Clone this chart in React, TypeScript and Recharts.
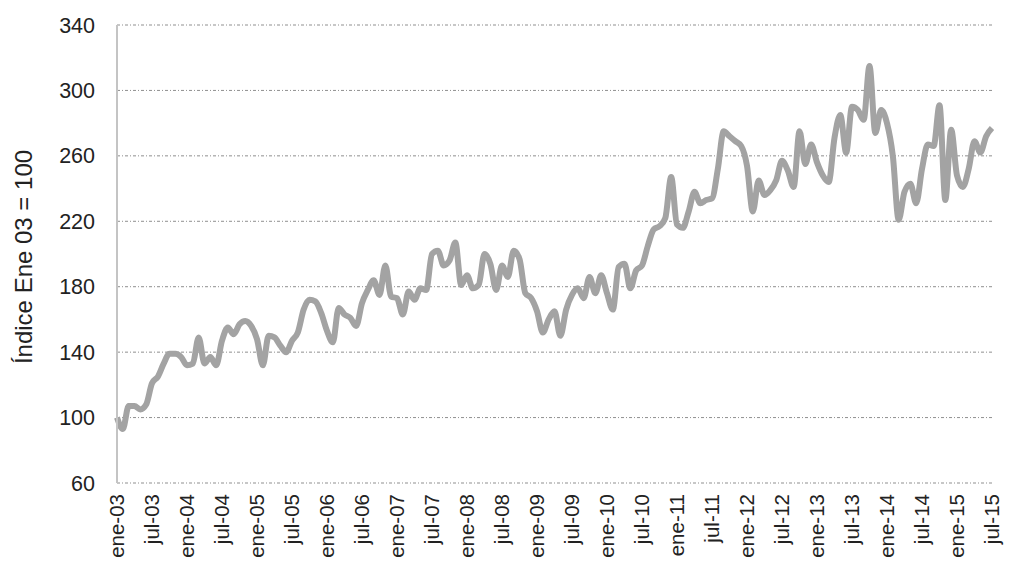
import React from 'react';
import { LineChart, Line, XAxis, YAxis, CartesianGrid } from 'recharts';

const meses = ['ene', 'feb', 'mar', 'abr', 'may', 'jun', 'jul', 'ago', 'sep', 'oct', 'nov', 'dic'];
const anios = ['03', '04', '05', '06', '07', '08', '09', '10', '11', '12', '13', '14', '15'];

// Índice mensual, base enero 2003 = 100
const indice2003 = [100, 93, 107, 107, 105, 108, 121, 125, 133, 139, 139, 137];
const indice2004 = [132, 133, 149, 133, 137, 132, 147, 155, 151, 157, 159, 156];
const indice2005 = [148, 132, 150, 149, 144, 140, 147, 152, 166, 172, 171, 164];
const indice2006 = [153, 146, 167, 163, 161, 156, 170, 178, 184, 175, 193, 174];
const indice2007 = [173, 163, 177, 172, 179, 178, 200, 202, 193, 196, 207, 181];
const indice2008 = [187, 179, 181, 200, 194, 178, 193, 186, 202, 197, 176, 173];
const indice2009 = [165, 152, 160, 165, 150, 166, 175, 179, 173, 186, 176, 187];
const indice2010 = [176, 166, 192, 194, 179, 190, 193, 205, 215, 217, 222, 247];
const indice2011 = [218, 216, 226, 238, 231, 233, 234, 252, 275, 272, 269, 266];
const indice2012 = [254, 226, 245, 236, 239, 245, 257, 251, 241, 275, 255, 267];
const indice2013 = [256, 248, 244, 271, 285, 262, 290, 288, 282, 315, 274, 288];
const indice2014 = [280, 260, 221, 238, 243, 231, 252, 267, 266, 291, 233, 276];
const indice2015 = [248, 241, 252, 269, 262, 272, 277];

const yTicks = [60, 100, 140, 180, 220, 260, 300, 340];

const valores = [
  ...indice2003, ...indice2004, ...indice2005, ...indice2006, ...indice2007,
  ...indice2008, ...indice2009, ...indice2010, ...indice2011, ...indice2012,
  ...indice2013, ...indice2014, ...indice2015,
];
const categorias = anios.flatMap((a) => meses.map((m) => `${m}-${a}`)).slice(0, valores.length);
const data = categorias.map((mes, i) => ({ mes, indice: valores[i] }));

const FONT = '"Liberation Sans", Arial, sans-serif';

const XTick = (props: any) => {
  const { x, y, payload } = props;
  return (
    <text
      x={x}
      y={y}
      transform={`rotate(-90 ${x} ${y})`}
      textAnchor="end"
      dy="0.36em"
      fontSize={20.5}
      fontFamily={FONT}
      fill="#222"
    >
      {payload.value}
    </text>
  );
};

const YLabel = (props: any) => {
  const { viewBox } = props;
  const cx = 23;
  const cy = viewBox.y + viewBox.height / 2 + 3;
  return (
    <text
      x={cx}
      y={cy}
      transform={`rotate(-90 ${cx} ${cy})`}
      textAnchor="middle"
      dy="0.36em"
      fontSize={24}
      fontFamily={FONT}
      fill="#222"
    >
      Índice Ene 03 = 100
    </text>
  );
};

export default function App() {
  return (
    <div style={{ position: 'absolute', left: 0, top: 0, background: '#fff' }}>
      <LineChart width={1009} height={563} data={data} margin={{ top: 25, right: 17, bottom: 0, left: 0 }}>
        <CartesianGrid vertical={false} stroke="#8f8f8f" strokeDasharray="3 2 1 2" />
        <XAxis
          dataKey="mes"
          interval={5}
          height={80}
          axisLine={false}
          tickLine={false}
          tickSize={0}
          tickMargin={11}
          tick={<XTick />}
        />
        <YAxis
          domain={[60, 340]}
          ticks={yTicks}
          width={117}
          axisLine={{ stroke: '#c4c4c4', strokeWidth: 2 }}
          tickLine={false}
          tickSize={0}
          tickMargin={22}
          tick={{ fontSize: 21.5, fontFamily: FONT, fill: '#222' }}
          label={<YLabel />}
        />
        <Line
          type="monotone"
          dataKey="indice"
          stroke="#a3a3a3"
          strokeWidth={6}
          dot={false}
          isAnimationActive={false}
        />
      </LineChart>
    </div>
  );
}
